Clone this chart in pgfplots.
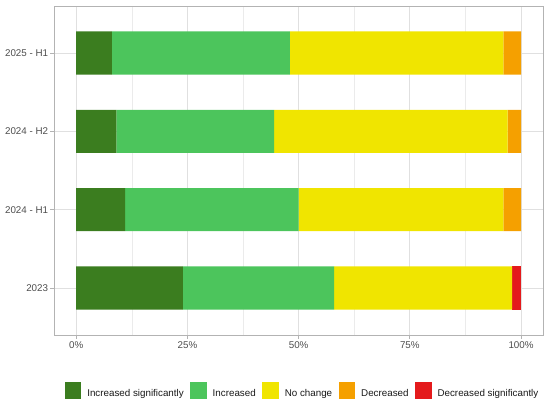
\documentclass[border=0pt]{standalone}
\usepackage{pgfplots}
\pgfplotsset{compat=1.18}
\usepackage{fontspec}
\setmainfont{Liberation Sans}
\definecolor{cIS}{HTML}{3B7D1F}
\definecolor{cI}{HTML}{4CC55C}
\definecolor{cN}{HTML}{F0E500}
\definecolor{cD}{HTML}{F5A000}
\definecolor{cDS}{HTML}{E41A1C}
\definecolor{tickgray}{HTML}{4D4D4D}
\definecolor{bordergray}{HTML}{B3B3B3}
\definecolor{gridmaj}{HTML}{E0E0E0}
\definecolor{gridmin}{HTML}{EBEBEB}
\newcommand\ff{\fontsize{9.8bp}{11bp}\selectfont}
\begin{document}
\begin{tikzpicture}
\useasboundingbox (-54bp,-71bp) rectangle (496bp,335bp);
\begin{axis}[
  scale only axis,
  width=489.3bp, height=329bp,
  xbar stacked,
  bar width=0.55,
  xmin=-5, xmax=105,
  ymin=0.4, ymax=4.6,
  xtick={0,25,50,75,100},
  xticklabels={0\%,25\%,50\%,75\%,100\%},
  minor xtick={12.5,37.5,62.5,87.5},
  ytick={1,2,3,4},
  yticklabels={2023,2024 - H1,2024 - H2,2025 - H1},
  tick pos=left,
  tick align=outside,
  major tick length=3.5bp,
  minor tick length=0pt,
  tick style={color=bordergray, line width=0.8bp},
  xmajorgrids, xminorgrids, ymajorgrids,
  major grid style={color=gridmaj, line width=0.9bp},
  minor grid style={color=gridmin, line width=0.6bp},
  axis line style={color=bordergray, line width=0.9bp},
  ticklabel style={font=\ff, text=tickgray},
  xticklabel style={inner sep=0pt, yshift=-3bp},
  yticklabel style={inner sep=0pt, xshift=-2.2bp},
  legend columns=5,
  legend cell align=left,
  legend style={
    at={(0.506,-0.169)}, anchor=center, draw=none, fill=none,
    font=\ff, text=black!90,
    nodes={inner sep=0pt},
    /tikz/every odd column/.append style={column sep=6bp},
    /tikz/every even column/.append style={column sep=6.5bp},
  },
  legend image code/.code={\fill[#1] (0bp,-5bp) rectangle (16.5bp,12bp);},
]
\addplot[fill=cIS, draw=none] coordinates {(24,1) (11,2) (9,3) (8,4)};
\addplot[fill=cI, draw=none] coordinates {(34,1) (39,2) (35.5,3) (40,4)};
\addplot[fill=cN, draw=none] coordinates {(40,1) (46,2) (52.5,3) (48,4)};
\addplot[fill=cD, draw=none] coordinates {(0,1) (4,2) (3,3) (4,4)};
\addplot[fill=cDS, draw=none] coordinates {(2,1) (0,2) (0,3) (0,4)};
\legend{Increased significantly,Increased,No change,Decreased,Decreased significantly}
\end{axis}
\end{tikzpicture}
\end{document}
